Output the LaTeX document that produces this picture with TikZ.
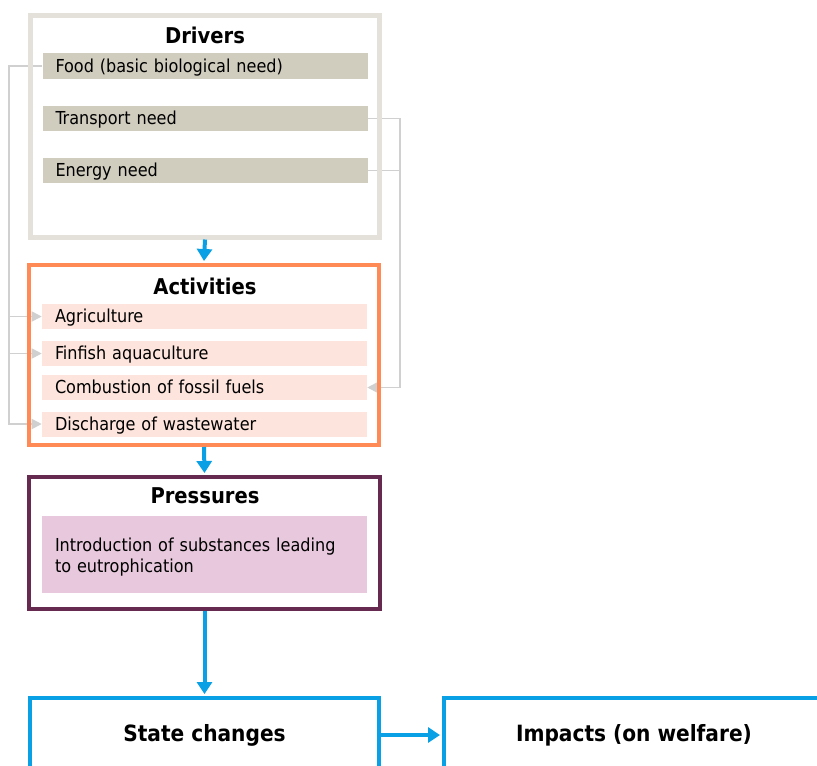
\documentclass[tikz,border=0pt]{standalone}
\usepackage{fontspec}
\setmainfont{DejaVu Sans Condensed}
\usetikzlibrary{arrows.meta}

\definecolor{driverborder}{HTML}{E3E1D9}
\definecolor{driverfill}{HTML}{D0CDBF}
\definecolor{actborder}{HTML}{FF8A55}
\definecolor{actfill}{HTML}{FDE4DC}
\definecolor{presborder}{HTML}{66294F}
\definecolor{presfill}{HTML}{E8C8DC}
\definecolor{flowblue}{HTML}{0AA0E6}
\definecolor{linkgray}{HTML}{D0D0D0}

\tikzset{
  panel/.style={draw=#1, line width=3pt, inner sep=0pt},
  paneltitle/.style={font=\fontsize{16.3}{19}\selectfont\bfseries, inner sep=0pt},
  bigtitle/.style={font=\fontsize{16.8}{19}\selectfont\bfseries},
  item/.style={fill=#1, minimum width=325*0.75pt, minimum height=25*0.75pt,
    text width=(325-26)*0.75pt, align=left, inner xsep=13*0.75pt, inner ysep=0pt,
    text height=1.15em, text depth=0.2em,
    font=\fontsize{13.4}{15.8}\selectfont},
  flow/.style={draw=flowblue, line width=3pt,
    -{Triangle[length=12*0.75pt, width=15*0.75pt]}},
  link/.style={draw=linkgray, line width=1.3pt},
  linkarrow/.style={link, -{Triangle[length=10*0.75pt, width=10*0.75pt]}},
}

\begin{document}
\begin{tikzpicture}[x=0.75pt, y=-0.75pt]
\useasboundingbox (0,0) rectangle (817,765);
\clip (0,0) rectangle (817,765);
\fill[white] (0,0) rectangle (817,765);

% items that the connectors attach to
\node[item=driverfill, minimum height=26*0.75pt] (food) at (205,66) {Food (basic biological need)};
\node[item=driverfill] (transport) at (205,118.5) {Transport need};
\node[item=driverfill] (energy) at (205,170.5) {Energy need};

\node[item=actfill] (agri) at (204.5,316.5) {Agriculture};
\node[item=actfill] (finfish) at (204.5,353.5) {Finfish aquaculture};
\node[item=actfill] (combustion) at (204.5,387.5) {Combustion of fossil fuels};
\node[item=actfill] (discharge) at (204.5,424) {Discharge of wastewater};

% grey links from drivers to activities (drawn under the panel frames)
\draw[linkarrow] (food.west) -- ++(-33,0) coordinate (lbus) |- (discharge.west);
\draw[linkarrow] (lbus |- agri.west) -- (agri.west);
\draw[linkarrow] (lbus |- finfish.west) -- (finfish.west);
\draw[linkarrow] (transport.east) -- ++(32,0) coordinate (rbus) |- (combustion.east);
\draw[link] (energy.east) -- (rbus |- energy.east);

% panel frames
\node[panel=driverborder, line width=3.75pt, minimum width=349*0.75pt, minimum height=221.5*0.75pt] (drivers) at (205,126.25) {};
\node[panel=actborder, minimum width=350*0.75pt, minimum height=180*0.75pt] (activities) at (204,355) {};
\node[panel=presborder, minimum width=351*0.75pt, minimum height=132*0.75pt] (pressures) at (204.5,543) {};
\node[panel=flowblue, minimum width=349*0.75pt, minimum height=74*0.75pt, bigtitle] (state) at (204.5,735) {State changes};
\node[panel=flowblue, minimum width=380*0.75pt, minimum height=74*0.75pt, bigtitle] (impacts) at (634,735) {Impacts (on welfare)};

% redraw the items over the frames
\node[item=driverfill, minimum height=26*0.75pt] at (food) {Food (basic biological need)};
\node[item=actfill] at (agri) {Agriculture};
\node[item=actfill] at (finfish) {Finfish aquaculture};
\node[item=actfill] at (combustion) {Combustion of fossil fuels};
\node[item=actfill] at (discharge) {Discharge of wastewater};

% panel titles
\node[paneltitle] (tdrivers) at (205,35) {Drivers};
\node[paneltitle] (tactivities) at (205,286) {Activities};
\node[paneltitle] (tpressures) at (205,496) {Pressures};

\node[item=presfill, minimum height=77*0.75pt, text height=1em, text depth=14pt]
  (eutro) at (204.5,554.5) {Introduction of substances leading\\to eutrophication};

% main causal chain
\draw[flow] (drivers.south) -- ([yshift=1.5pt]activities.north);
\draw[flow] (activities.south) -- ([yshift=1.5pt]pressures.north);
\draw[flow] (pressures.south) -- ([yshift=1.5pt]state.north);
\draw[flow] (state.east) -- ([xshift=-1.5pt]impacts.west);
\end{tikzpicture}
\end{document}
